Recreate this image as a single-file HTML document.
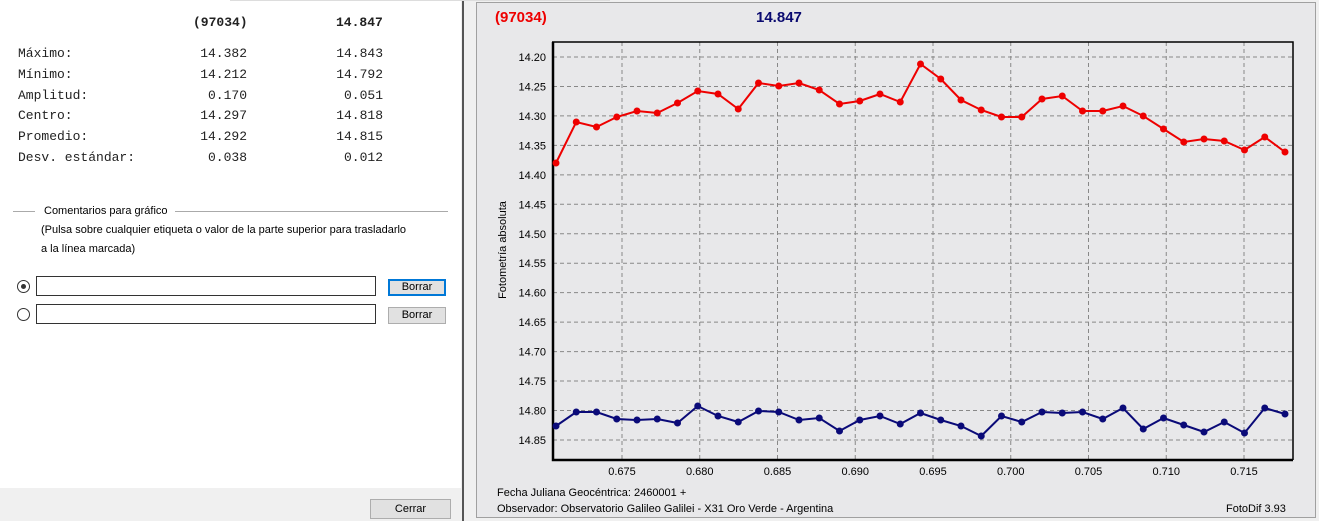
<!DOCTYPE html>
<html><head><meta charset="utf-8"><style>
body{margin:0;width:1319px;height:521px;overflow:hidden;background:#f0f0f0;position:relative;font-family:"Liberation Sans",sans-serif}
.mono{font-family:"Liberation Mono",monospace;font-size:13px;position:absolute;color:#222}
.t{position:absolute;font-size:11px;color:#000;white-space:nowrap}
</style></head><body>
<div style="position:absolute;left:0;top:0;width:461px;height:488px;background:#fff"></div>
<div style="position:absolute;left:462px;top:0;width:2px;height:521px;background:#555"></div>
<div style="position:absolute;left:476px;top:2px;width:840px;height:516px;background:#e8e8ea;border:1px solid #a0a0a0;box-sizing:border-box"></div>
<div style="position:absolute;left:230px;top:0;width:380px;height:1px;background:#ddd"></div>

<div class="mono" style="left:193px;top:15px;font-weight:bold">(97034)</div>
<div class="mono" style="left:336px;top:15px;font-weight:bold">14.847</div>
<div class="mono" style="left:18px;top:44px;line-height:20.8px">Máximo:<br>Mínimo:<br>Amplitud:<br>Centro:<br>Promedio:<br>Desv. estándar:</div>
<div class="mono" style="left:190px;top:44px;line-height:20.8px;text-align:right;width:57px">14.382<br>14.212<br>0.170<br>14.297<br>14.292<br>0.038</div>
<div class="mono" style="left:326px;top:44px;line-height:20.8px;text-align:right;width:57px">14.843<br>14.792<br>0.051<br>14.818<br>14.815<br>0.012</div>

<div style="position:absolute;left:13px;top:211px;width:22px;height:1px;background:#aaa"></div>
<div style="position:absolute;left:175px;top:211px;width:273px;height:1px;background:#aaa"></div>
<div class="t" style="left:44px;top:205px">Comentarios para gráfico</div>
<div class="t" style="left:41px;top:224px">(Pulsa sobre cualquier etiqueta o valor de la parte superior para trasladarlo</div>
<div class="t" style="left:41px;top:243px">a la línea marcada)</div>
<div style="position:absolute;left:17px;top:280px;width:11px;height:11px;border:1px solid #333;border-radius:50%"></div>
<div style="position:absolute;left:21px;top:284px;width:5px;height:5px;background:#333;border-radius:50%"></div>
<div style="position:absolute;left:17px;top:308px;width:11px;height:11px;border:1px solid #333;border-radius:50%"></div>
<div style="position:absolute;left:36px;top:276px;width:340px;height:20px;border:1px solid #333;box-sizing:border-box"></div>
<div style="position:absolute;left:36px;top:304px;width:340px;height:20px;border:1px solid #333;box-sizing:border-box"></div>
<div style="position:absolute;left:388px;top:279px;width:58px;height:17px;border:2px solid #0078d7;background:#e1e1e1;box-sizing:border-box;font-size:11px;text-align:center;line-height:13px">Borrar</div>
<div style="position:absolute;left:388px;top:307px;width:58px;height:17px;border:1px solid #adadad;background:#e1e1e1;box-sizing:border-box;font-size:11px;text-align:center;line-height:15px">Borrar</div>
<div style="position:absolute;left:370px;top:499px;width:81px;height:20px;border:1px solid #adadad;background:#e1e1e1;box-sizing:border-box;font-size:11px;text-align:center;line-height:18px">Cerrar</div>

<div style="position:absolute;left:495px;top:9px;font-size:15px;font-weight:bold;color:#e00">(97034)</div>
<div style="position:absolute;left:756px;top:9px;font-size:15px;font-weight:bold;color:#0a0a70">14.847</div>
<div class="t" style="left:497px;top:487px">Fecha Juliana Geocéntrica: 2460001 +</div>
<div class="t" style="left:497px;top:503px">Observador: Observatorio Galileo Galilei - X31 Oro Verde - Argentina</div>
<div class="t" style="left:1226px;top:503px">FotoDif 3.93</div>

<svg width="1319" height="521" style="position:absolute;left:0;top:0" font-family="Liberation Sans" font-size="11">
<g id="grid" stroke="#888" stroke-dasharray="4,3" stroke-width="1"></g>
<g id="labels" fill="#000"></g>
<text x="506" y="250" transform="rotate(-90 506 250)" text-anchor="middle" font-size="11">Fotometría absoluta</text>
<path d="M552,42 H1293 V460" fill="none" stroke="#000" stroke-width="1.5"/>
<path d="M553,42 V460 H1293" fill="none" stroke="#000" stroke-width="2.5"/>
<polyline id="red" fill="none" stroke="#e00" stroke-width="2"/>
<polyline id="blue" fill="none" stroke="#0a0a78" stroke-width="2"/>
<g id="rd" fill="#e00"></g><g id="bd" fill="#0a0a78"></g>
</svg>
<script>
var ns="http://www.w3.org/2000/svg";
function el(p,t,a,txt){var e=document.createElementNS(ns,t);for(var k in a)e.setAttribute(k,a[k]);if(txt)e.textContent=txt;document.getElementById(p).appendChild(e);}
for(var i=0;i<14;i++){var y=57+i*29.46;el("grid","line",{x1:553,x2:1293,y1:y,y2:y});el("labels","text",{x:546,y:y+4,"text-anchor":"end"},(14.20+i*0.05).toFixed(2));}
for(var i=0;i<9;i++){var x=622+i*77.75;el("grid","line",{x1:x,x2:x,y1:42,y2:459});el("labels","text",{x:x,y:475,"text-anchor":"middle"},(0.675+i*0.005).toFixed(3));}
var ry=[163,122,127,117,111,113,103,91,94,109,83,86,83,90,104,101,94,102,64,79,100,110,117,117,99,96,111,111,106,116,129,142,139,141,150,137,152];
var by=[426,412,412,419,420,419,423,406,416,422,411,412,420,418,431,420,416,424,413,420,426,436,416,422,412,413,412,419,408,429,418,425,432,422,433,408,414];
var rp=[],bp=[];
for(var i=0;i<37;i++){var x=556+i*20.25;rp.push(x+","+ry[i]);bp.push(x+","+by[i]);
el("rd","circle",{cx:x,cy:ry[i],r:3.5});el("bd","circle",{cx:x,cy:by[i],r:3.5});}
document.getElementById("red").setAttribute("points",rp.join(" "));
document.getElementById("blue").setAttribute("points",bp.join(" "));
</script>
</body></html>
